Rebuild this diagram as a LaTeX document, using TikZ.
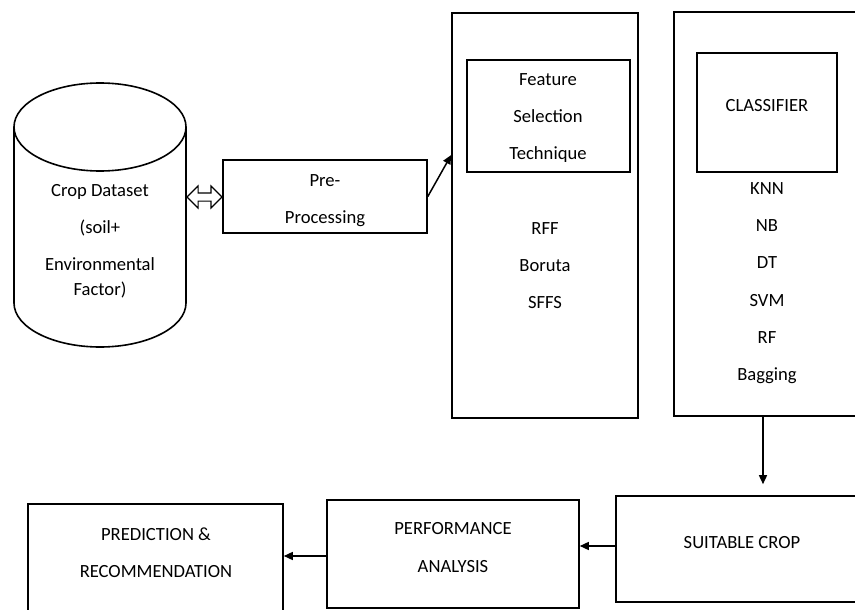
\documentclass[tikz,border=0pt]{standalone}
\usepackage{fontspec}
\setmainfont{Carlito}
\usetikzlibrary{arrows.meta,shapes.arrows}
\begin{document}
\begin{tikzpicture}[x=1pt,y=-1pt,
  box/.style={draw,line width=1.6pt,rectangle,inner sep=0pt},
  lbl/.style={anchor=base,inner sep=0pt,font=\fontsize{18.6}{22}\selectfont},
  arr/.style={line width=1.5pt,-{Triangle[length=9pt,width=8pt]}},
  ln/.style={line width=1.6pt}]
\useasboundingbox (0,0) rectangle (855,610);
\clip (0,0) rectangle (855,610);
% cylinder (crop dataset)
\draw[ln] (14,127) -- (14,303) arc[start angle=180,end angle=360,x radius=86pt,y radius=44pt] -- (186,127);
\draw[ln] (100,127) ellipse[x radius=86pt,y radius=44pt];
\node[minimum width=172pt,minimum height=264pt,inner sep=0pt] (db) at (100,215) {};
\node[lbl] (db1) at (100,196) {Crop Dataset};
\node[lbl] (db2) at (100,233) {(soil+};
\node[lbl] (db3) at (100,270) {Environmental};
\node[lbl] (db4) at (100,295) {Factor)};
% double arrow
\node[double arrow,draw,line width=1.1pt,minimum width=21pt,minimum height=35pt,
      double arrow head extend=7pt,inner sep=3.5pt] (dbl) at (204.5,197) {};
% pre-processing
\node[box,minimum width=204pt,minimum height=73pt] (pre) at (325,196.5) {};
\node[lbl] (pre1) at (325,186) {Pre-};
\node[lbl] (pre2) at (325,223) {Processing};
% feature selection
\node[box,minimum width=186pt,minimum height=405pt] (fsout) at (545,215.5) {};
\node[box,minimum width=163pt,minimum height=112pt] (fsin) at (548.5,116) {};
\node[lbl] (fs1) at (548,85) {Feature};
\node[lbl] (fs2) at (548,122) {Selection};
\node[lbl] (fs3) at (548,160) {Technique};
\node[lbl] (rff) at (545,234) {RFF};
\node[lbl] (bor) at (545,271) {Boruta};
\node[lbl] (sffs) at (545,308) {SFFS};
\coordinate (fsentry) at (0,155);
\draw[arr] (pre.east) -- (fsout.west |- fsentry);
% classifier
\node[box,minimum width=206pt,minimum height=404pt] (clout) at (777,214) {};
\node[box,minimum width=140pt,minimum height=119pt] (clin) at (767,112.5) {};
\node[lbl] (cltxt) at (767,111) {CLASSIFIER};
\node[lbl] (knn) at (767,194) {KNN};
\node[lbl] (nb) at (767,231) {NB};
\node[lbl] (dt) at (767,268) {DT};
\node[lbl] (svm) at (767,306) {SVM};
\node[lbl] (rf) at (767,343) {RF};
\node[lbl] (bag) at (767,380) {Bagging};
% bottom row
\node[box,minimum width=264pt,minimum height=106pt] (crop) at (748,549) {};
\node[lbl] (croptxt) at (742,548) {SUITABLE CROP};
\node[box,minimum width=252pt,minimum height=108pt] (perf) at (453,554) {};
\node[lbl] (perf1) at (453,534) {PERFORMANCE};
\node[lbl] (perf2) at (453,572) {ANALYSIS};
\node[box,minimum width=255pt,minimum height=116pt] (pred) at (155.5,562) {};
\node[lbl] (pred1) at (156,540) {PREDICTION \&};
\node[lbl] (pred2) at (156,577) {RECOMMENDATION};
% connectors
\coordinate (ax) at (763,0);
\coordinate (ay) at (0,546);
\coordinate (by) at (0,556);
\draw[arr,shorten >=11pt] (clout.south -| ax) -- (crop.north -| ax);
\draw[arr] (crop.west |- ay) -- (perf.east |- ay);
\draw[arr] (perf.west |- by) -- (pred.east |- by);
\end{tikzpicture}
\end{document}
